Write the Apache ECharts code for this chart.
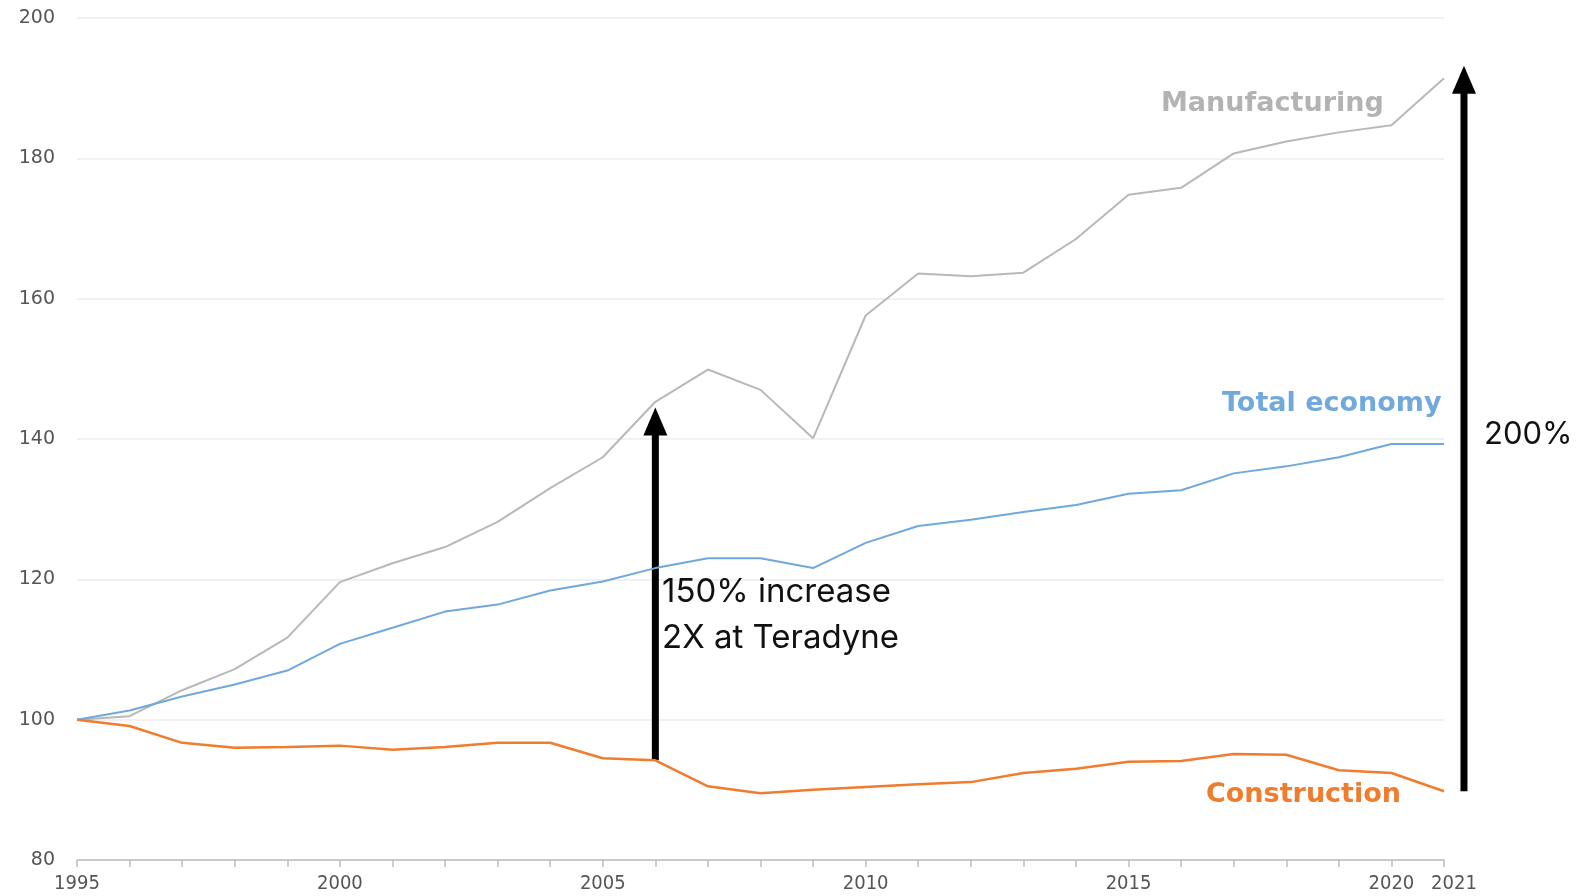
<!DOCTYPE html>
<html>
<head>
<meta charset="utf-8">
<script src="https://cdn.jsdelivr.net/npm/echarts@6/dist/echarts.min.js"></script>
<style>
  html, body { margin: 0; padding: 0; background: #fff; }
  #chart { width: 1583px; height: 896px; }
</style>
</head>
<body>
<div id="chart"></div>
<script>
const years = [1995, 1996, 1997, 1998, 1999, 2000, 2001, 2002, 2003, 2004, 2005, 2006, 2007,
  2008, 2009, 2010, 2011, 2012, 2013, 2014, 2015, 2016, 2017, 2018, 2019, 2020, 2021]
const shownYears = [1995, 2000, 2005, 2010, 2015, 2020, 2021]
const manufacturing = [100, 100.5, 104.2, 107.2, 111.7, 119.6, 122.3, 124.6, 128.2, 133, 137.4, 145.3, 149.9,
  147, 140.1, 157.6, 163.6, 163.2, 163.7, 168.5, 174.8, 175.8, 180.7, 182.4, 183.7, 184.7, 191.4]
const totalEconomy = [100, 101.3, 103.3, 105, 107, 110.8, 113.1, 115.4, 116.4, 118.4, 119.7, 121.6, 123,
  123, 121.6, 125.2, 127.6, 128.5, 129.6, 130.6, 132.2, 132.7, 135.1, 136.1, 137.4, 139.3, 139.3]
const construction = [100, 99.1, 96.7, 96, 96.1, 96.3, 95.7, 96.1, 96.7, 96.7, 94.5, 94.2, 90.5,
  89.5, 90, 90.4, 90.8, 91.1, 92.4, 93, 94, 94.1, 95.1, 95, 92.8, 92.4, 89.8]
// arrows: [x, from, to]
const arrowMid = [2006, 94.2, 144.5]
const arrowBig = [2021.38, 89.8, 193.2]

const pair = (arr) => years.map((y, i) => [y, arr[i]])

const myChart = echarts.init(document.getElementById('chart'))
const option = {
  animation: false,
  grid: { left: 77, right: 139, top: 18, bottom: 36 },
  xAxis: {
    type: 'value',
    min: 1995,
    max: 2021,
    interval: 1,
    splitLine: { show: false },
    axisLine: { lineStyle: { color: '#bdbdbd', width: 1.5 } },
    axisTick: { show: true, length: 7, lineStyle: { color: '#bdbdbd', width: 1.5 } },
    axisLabel: {
      margin: 14,
      color: '#555',
      fontSize: 20,
      fontFamily: 'DejaVu Sans Condensed',
      formatter: (v) => {
        if (v === 2021) return '{r|2021}'
        return shownYears.includes(v) ? `${v}` : ''
      },
      rich: {
        r: { padding: [0, 0, 0, 20], color: '#555', fontSize: 20, fontFamily: 'DejaVu Sans Condensed' },
      },
    },
  },
  yAxis: {
    type: 'value',
    min: 80,
    max: 200,
    interval: 20,
    axisLine: { show: false },
    axisTick: { show: false },
    splitLine: { lineStyle: { color: '#ececec', width: 1.5 } },
    axisLabel: { margin: 22, color: '#555', fontSize: 19, fontFamily: 'DejaVu Sans' },
  },
  series: [
    {
      name: 'Manufacturing',
      type: 'line',
      data: pair(manufacturing),
      showSymbol: false,
      lineStyle: { color: '#b8b8b8', width: 2 },
      z: 2,
    }, {
      name: 'Total economy',
      type: 'line',
      data: pair(totalEconomy),
      showSymbol: false,
      lineStyle: { color: '#6fa8dc', width: 2 },
      z: 3,
    }, {
      name: 'Construction',
      type: 'line',
      data: pair(construction),
      showSymbol: false,
      lineStyle: { color: '#f07c2e', width: 2.5 },
      z: 3,
    }],
}
myChart.setOption(option)

const px = (x, y) => myChart.convertToPixel({ gridIndex: 0 }, [x, y])
const arrow = (a) => {
  const bottom = px(a[0], a[1])
  const top = px(a[0], a[2])
  const headH = 28
  const headW = 12
  return {
    type: 'group',
    z: 10,
    children: [{
      type: 'line',
      shape: { x1: bottom[0], y1: bottom[1], x2: top[0], y2: top[1] + headH - 2 },
      style: { stroke: '#000', lineWidth: 7 },
    }, {
      type: 'polygon',
      shape: {
        points: [[top[0], top[1]], [top[0] - headW, top[1] + headH], [top[0] + headW, top[1] + headH]],
      },
      style: { fill: '#000' },
    }],
  }
}
const label = (text, x, y, color, size, font, weight) => ({
  type: 'text',
  z: 11,
  x,
  y,
  style: {
    text,
    fill: color,
    fontSize: size,
    fontFamily: font,
    fontWeight: weight,
    textVerticalAlign: 'middle',
  },
})

myChart.setOption({
  graphic: [
    arrow(arrowMid),
    arrow(arrowBig),
    label('Manufacturing', 1161, 104, '#b3b3b3', 27, 'DejaVu Sans', 'bold'),
    label('Total economy', 1222, 404, '#72a9dc', 27, 'DejaVu Sans', 'bold'),
    label('Construction', 1206, 795, '#f07c2e', 27, 'DejaVu Sans', 'bold'),
    label('200%', 1484, 435, '#111', 31, 'Inter', 'normal'),
    label('150% increase', 662, 592, '#111', 33, 'Inter', 'normal'),
    label('2X at Teradyne', 662, 638, '#111', 33, 'Inter', 'normal'),
  ],
})
</script>
</body>
</html>
